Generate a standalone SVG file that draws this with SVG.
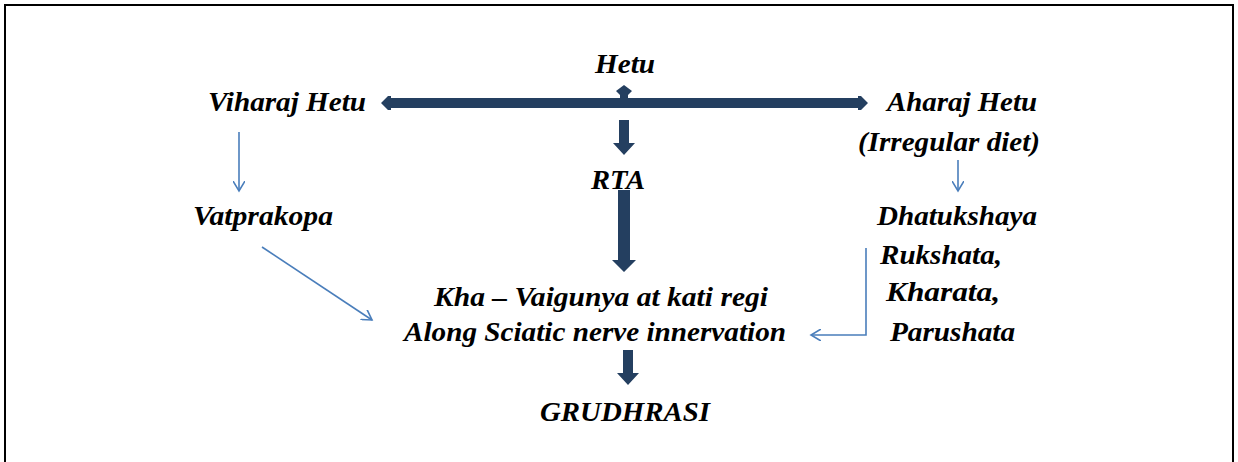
<svg xmlns="http://www.w3.org/2000/svg" width="1238" height="462" viewBox="0 0 1238 462">
<defs>
<style>
text{font-family:"Liberation Serif","DejaVu Serif",serif;font-weight:bold;font-style:italic;font-size:27px;fill:#000}
.thin{stroke:#4a7ebb;stroke-width:1.6;fill:none}
.bold{fill:#243f60;stroke:none}
</style>
<marker id="open" markerWidth="12" markerHeight="12" refX="10" refY="6" orient="auto" markerUnits="userSpaceOnUse">
<path d="M0,0 L10,6 L0,12" fill="none" stroke="#4a7ebb" stroke-width="1.6"/>
</marker>
</defs>
<rect width="1238" height="462" fill="#fff"/>
<g id="frame" fill="none" stroke="#000" stroke-width="2">
<path d="M5,462 V5 H1233 V462"/>
</g>
<g id="connectors">
<path class="bold" d="M381,103 L388,96 L391,96 L391,98 L858,98 L858,96 L861,96 L868,103 L861,110 L858,110 L858,108 L391,108 L391,110 L388,110 Z"/>
<path class="bold" d="M624,85 L632,91 L628,95 L628,98 L620,98 L620,95 L616,91 Z"/>
<path class="bold" d="M619,120 H629 V143 H635 L624,155 L613,143 H619 Z"/>
<path class="bold" d="M618,190 H630 V260 H636 L624,272 L612,260 H618 Z"/>
<path class="bold" d="M623,350 H633 V373 H639 L628,385 L617,373 H623 Z"/>
<line class="thin" x1="239" y1="132" x2="239" y2="191" marker-end="url(#open)"/>
<line class="thin" x1="262" y1="247" x2="372" y2="320" marker-end="url(#open)"/>
<line class="thin" x1="958" y1="160" x2="958" y2="191" marker-end="url(#open)"/>
<path class="thin" d="M866,248 V335 H811" marker-end="url(#open)"/>
</g>
<g id="hetu"><text x="595" y="73" textLength="60" lengthAdjust="spacingAndGlyphs">Hetu</text></g>
<g id="viharaj"><text x="208" y="111" textLength="158" lengthAdjust="spacingAndGlyphs">Viharaj Hetu</text></g>
<g id="aharaj">
<text x="887" y="111" textLength="150" lengthAdjust="spacingAndGlyphs">Aharaj Hetu</text>
<text x="858" y="151" textLength="182" lengthAdjust="spacingAndGlyphs">(Irregular diet)</text>
</g>
<g id="rta"><text x="591" y="189" textLength="54" lengthAdjust="spacingAndGlyphs">RTA</text></g>
<g id="vatprakopa"><text x="193" y="225" textLength="140" lengthAdjust="spacingAndGlyphs">Vatprakopa</text></g>
<g id="dhatukshaya">
<text x="877" y="225" textLength="160" lengthAdjust="spacingAndGlyphs">Dhatukshaya</text>
<text x="880" y="264" textLength="122" lengthAdjust="spacingAndGlyphs">Rukshata,</text>
<text x="886" y="301" textLength="114" lengthAdjust="spacingAndGlyphs">Kharata,</text>
<text x="890" y="341" textLength="125" lengthAdjust="spacingAndGlyphs">Parushata</text>
</g>
<g id="khavaigunya">
<text x="434" y="306" textLength="334" lengthAdjust="spacingAndGlyphs">Kha – Vaigunya at kati regi</text>
<text x="404" y="341" textLength="382" lengthAdjust="spacingAndGlyphs">Along Sciatic nerve innervation</text>
</g>
<g id="grudhrasi"><text x="540" y="421" textLength="170" lengthAdjust="spacingAndGlyphs">GRUDHRASI</text></g>
</svg>
